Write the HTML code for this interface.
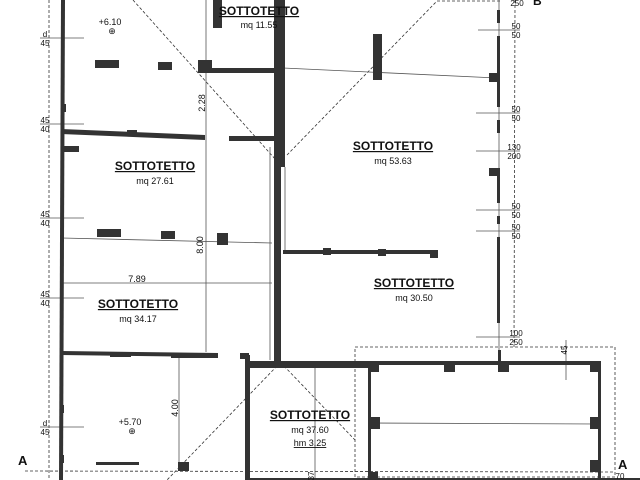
<!DOCTYPE html>
<html><head><meta charset="utf-8"><style>
html,body{margin:0;padding:0;background:#fff;width:640px;height:480px;overflow:hidden}
text{font-family:"Liberation Sans",sans-serif;fill:#111}
.t{font-weight:bold;font-size:12px;text-anchor:middle;text-decoration:underline}
.m{font-size:9px;text-anchor:middle}
.s{font-size:8px;text-anchor:middle}
</style></head><body>
<svg width="640" height="480" viewBox="0 0 640 480" xmlns="http://www.w3.org/2000/svg">
<g fill="none" stroke="#333" stroke-width="0.8" stroke-dasharray="3,2">
<line x1="49" y1="0" x2="49" y2="480"/>
<line x1="515" y1="0" x2="514" y2="347"/>
<line x1="437" y1="1" x2="500" y2="1"/>
<line x1="133" y1="0" x2="276" y2="160"/>
<line x1="287" y1="155" x2="437" y2="1"/>
<line x1="277" y1="366" x2="167" y2="480"/>
<line x1="284" y1="366" x2="355" y2="440"/>
<rect x="355" y="347" width="260" height="130"/>
<line x1="25" y1="471" x2="615" y2="472"/>
</g>
<g stroke="#555" stroke-width="0.8" fill="none">
<line x1="206" y1="0" x2="206" y2="352"/>
<line x1="283" y1="68" x2="497" y2="78"/>
<line x1="62" y1="238" x2="272" y2="243"/>
<line x1="62" y1="283" x2="272" y2="283"/>
<line x1="270" y1="147" x2="270" y2="360"/>
<line x1="179" y1="355" x2="179" y2="465"/>
<line x1="315" y1="367" x2="315" y2="480"/>
<line x1="371" y1="423" x2="598" y2="424"/>
<line x1="499" y1="0" x2="499" y2="360"/>
<line x1="40" y1="38" x2="84" y2="38"/>
<line x1="40" y1="124" x2="84" y2="124"/>
<line x1="40" y1="218" x2="84" y2="218"/>
<line x1="40" y1="298" x2="84" y2="298"/>
<line x1="40" y1="427" x2="84" y2="427"/>
<line x1="478" y1="30" x2="520" y2="30"/>
<line x1="476" y1="113" x2="520" y2="113"/>
<line x1="476" y1="151" x2="520" y2="151"/>
<line x1="476" y1="210" x2="520" y2="210"/>
<line x1="476" y1="231" x2="520" y2="231"/>
<line x1="476" y1="337" x2="520" y2="337"/>
<line x1="566" y1="340" x2="566" y2="380"/>
<line x1="280" y1="167" x2="280" y2="250"/>
<line x1="285" y1="167" x2="285" y2="250"/>
</g>
<g fill="#333">
<polygon points="61,0 65,0 63,480 59,480"/>
<rect x="274" y="0" width="11" height="167"/>
<rect x="274" y="167" width="7" height="200"/>
<rect x="200" y="68" width="75" height="5"/>
<rect x="198" y="60" width="14" height="13"/>
<rect x="213" y="0" width="9" height="28"/>
<polygon points="61,129 205,135 205,140 61,134"/>
<rect x="229" y="136" width="45" height="5"/>
<rect x="127" y="130" width="10" height="5"/>
<rect x="63" y="146" width="16" height="6"/>
<rect x="95" y="60" width="24" height="8"/>
<rect x="158" y="62" width="14" height="8"/>
<rect x="97" y="229" width="24" height="8"/>
<rect x="161" y="231" width="14" height="8"/>
<rect x="217" y="233" width="11" height="12"/>
<rect x="283" y="250" width="154" height="4"/>
<rect x="323" y="248" width="8" height="7"/>
<rect x="378" y="249" width="8" height="7"/>
<rect x="430" y="250" width="8" height="8"/>
<rect x="373" y="34" width="9" height="46"/>
<polygon points="61,351 218,353 218,357 61,355"/>
<rect x="110" y="352" width="21" height="5"/>
<rect x="171" y="353" width="47" height="5"/>
<rect x="240" y="353" width="9" height="6"/>
<rect x="245" y="355" width="5" height="125"/>
<rect x="245" y="361" width="125" height="7"/>
<rect x="368" y="361" width="233" height="4"/>
<rect x="368" y="361" width="3" height="119"/>
<rect x="598" y="361" width="3" height="119"/>
<rect x="368" y="361" width="11" height="11"/>
<rect x="444" y="361" width="11" height="11"/>
<rect x="498" y="361" width="11" height="11"/>
<rect x="590" y="361" width="11" height="11"/>
<rect x="370" y="417" width="10" height="12"/>
<rect x="590" y="417" width="10" height="12"/>
<rect x="590" y="460" width="10" height="12"/>
<rect x="368" y="472" width="10" height="8"/>
<rect x="96" y="462" width="43" height="3"/>
<rect x="178" y="462" width="11" height="9"/>
<rect x="497" y="10" width="3" height="13"/>
<rect x="497" y="36" width="3" height="71"/>
<rect x="497" y="120" width="3" height="13"/>
<rect x="497" y="168" width="3" height="35"/>
<rect x="497" y="216" width="3" height="8"/>
<rect x="497" y="237" width="3" height="86"/>
<rect x="489" y="73" width="9" height="9"/>
<rect x="489" y="168" width="9" height="8"/>
<rect x="498" y="350" width="3" height="12"/>
<rect x="62" y="104" width="4" height="8"/>
<rect x="60" y="405" width="4" height="8"/>
<rect x="60" y="455" width="4" height="8"/>
<rect x="245" y="478" width="395" height="2"/>
</g>
<text class="t" x="259" y="15">SOTTOTETTO</text><text class="m" x="259" y="28">mq 11.55</text>
<text class="t" x="155" y="170">SOTTOTETTO</text><text class="m" x="155" y="184">mq 27.61</text>
<text class="t" x="393" y="150">SOTTOTETTO</text><text class="m" x="393" y="164">mq 53.63</text>
<text class="t" x="138" y="308">SOTTOTETTO</text><text class="m" x="138" y="322">mq 34.17</text>
<text class="t" x="414" y="287">SOTTOTETTO</text><text class="m" x="414" y="301">mq 30.50</text>
<text class="t" x="310" y="419">SOTTOTETTO</text><text class="m" x="310" y="433">mq 37.60</text>
<text class="m" x="310" y="446" text-decoration="underline">hm 3.25</text>
<text class="m" x="110" y="25">+6.10</text><text class="m" x="112" y="34">⊕</text>
<text class="m" x="130" y="425">+5.70</text><text class="m" x="132" y="434">⊕</text>
<text class="m" x="137" y="282">7.89</text>
<text class="m" transform="translate(205,103) rotate(-90)">2.28</text>
<text class="m" transform="translate(203,245) rotate(-90)">8.00</text>
<text class="m" transform="translate(178,408) rotate(-90)">4.00</text>
<text class="s" transform="translate(314,476) rotate(-90)">37</text>
<g class="s">
<text class="s" x="45" y="37">d</text><text class="s" x="45" y="46">45</text>
<text class="s" x="45" y="123">45</text><text class="s" x="45" y="132">40</text>
<text class="s" x="45" y="217">45</text><text class="s" x="45" y="226">40</text>
<text class="s" x="45" y="297">45</text><text class="s" x="45" y="306">40</text>
<text class="s" x="45" y="426">d</text><text class="s" x="45" y="435">45</text>
<text class="s" x="517" y="6">250</text>
<text class="s" x="516" y="29">50</text><text class="s" x="516" y="38">50</text>
<text class="s" x="516" y="112">50</text><text class="s" x="516" y="121">50</text>
<text class="s" x="514" y="150">130</text><text class="s" x="514" y="159">200</text>
<text class="s" x="516" y="209">50</text><text class="s" x="516" y="218">50</text>
<text class="s" x="516" y="230">50</text><text class="s" x="516" y="239">50</text>
<text class="s" x="516" y="336">100</text><text class="s" x="516" y="345">250</text>
<text class="s" x="620" y="479">70</text>
<text class="s" transform="translate(567,350) rotate(-90)">45</text>
</g>
<text x="18" y="465" font-size="13" font-weight="bold">A</text>
<text x="618" y="469" font-size="13" font-weight="bold">A</text>
<text x="533" y="5" font-size="12" font-weight="bold">B</text>
</svg>
</body></html>
